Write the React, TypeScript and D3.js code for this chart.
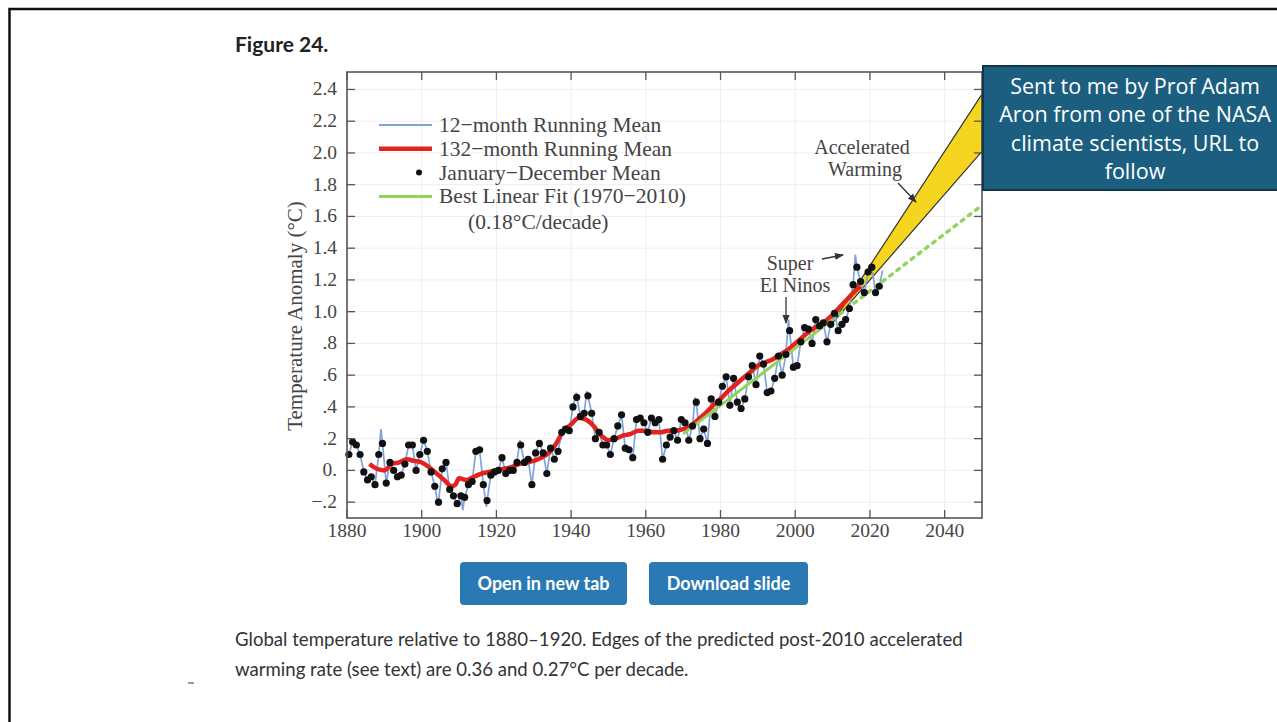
import React from 'react';
import * as d3 from 'd3';

// Jan-Dec mean anomaly (°C, relative to 1880-1920), one value per year from 1880
const firstYear = 1880;
const annualMean = [
  0.10, 0.18, 0.16, 0.10, -0.01, -0.06, -0.04, -0.09, 0.10, 0.17,
  -0.08, 0.05, 0.00, -0.04, -0.03, 0.04, 0.16, 0.16, 0.00, 0.10,
  0.19, 0.12, -0.01, -0.10, -0.20, 0.01, 0.05, -0.12, -0.16, -0.21,
  -0.16, -0.17, -0.09, -0.07, 0.12, 0.13, -0.09, -0.19, -0.03, -0.01,
  0.00, 0.08, -0.02, 0.00, 0.00, 0.05, 0.16, 0.05, 0.07, -0.09,
  0.11, 0.17, 0.11, -0.02, 0.14, 0.07, 0.12, 0.24, 0.26, 0.25,
  0.40, 0.46, 0.34, 0.36, 0.47, 0.36, 0.20, 0.24, 0.16, 0.16,
  0.10, 0.20, 0.28, 0.35, 0.14, 0.13, 0.08, 0.32, 0.33, 0.30,
  0.24, 0.33, 0.30, 0.32, 0.07, 0.16, 0.21, 0.25, 0.19, 0.32,
  0.30, 0.19, 0.28, 0.43, 0.20, 0.26, 0.17, 0.45, 0.34, 0.43,
  0.53, 0.59, 0.41, 0.58, 0.43, 0.39, 0.45, 0.59, 0.66, 0.54,
  0.72, 0.67, 0.49, 0.50, 0.58, 0.72, 0.60, 0.73, 0.88, 0.65,
  0.66, 0.81, 0.90, 0.89, 0.80, 0.95, 0.91, 0.93, 0.81, 0.92,
  0.99, 0.88, 0.92, 0.95, 1.02, 1.17, 1.28, 1.19, 1.12, 1.25,
  1.28, 1.12, 1.16,
];

// extra swings of the 12-month running mean beyond the annual dots [year, °C]
const runningMeanSwings: [number, number][] = [
  [1889.1, 0.26], [1904.4, -0.22], [1911.0, -0.25], [1917.3, -0.23],
  [1926.3, 0.19], [1941.4, 0.49], [1944.2, 0.50], [1973.2, 0.46],
  [1998.2, 0.95], [2016.1, 1.36], [2023.4, 1.26],
];

// 132-month running mean [year, °C]
const runningMean132: [number, number][] = [
  [1886, 0.04], [1888, 0.01], [1890, 0.0], [1892, 0.04], [1894, 0.05],
  [1896, 0.07], [1898, 0.06], [1900, 0.05], [1902, 0.02], [1904, -0.02],
  [1906, -0.06], [1908, -0.1], [1909, -0.09], [1910, -0.05], [1912, -0.06],
  [1914, -0.04], [1916, -0.02], [1918, -0.01], [1920, 0.0], [1922, 0.01],
  [1924, 0.02], [1926, 0.04], [1928, 0.05], [1930, 0.06], [1932, 0.08],
  [1934, 0.11], [1936, 0.17], [1938, 0.25], [1940, 0.29], [1942, 0.33],
  [1944, 0.32], [1946, 0.28], [1948, 0.22], [1950, 0.19], [1952, 0.2],
  [1954, 0.22], [1956, 0.23], [1958, 0.25], [1960, 0.25], [1962, 0.24],
  [1964, 0.24], [1966, 0.25], [1968, 0.25], [1970, 0.26], [1972, 0.28],
  [1974, 0.32], [1976, 0.36], [1978, 0.41], [1980, 0.45], [1982, 0.5],
  [1984, 0.54], [1986, 0.58], [1988, 0.62], [1990, 0.66], [1992, 0.68],
  [1994, 0.7], [1996, 0.73], [1998, 0.76], [2000, 0.8], [2002, 0.84],
  [2004, 0.88], [2006, 0.91], [2008, 0.94], [2010, 0.98], [2012, 1.03],
  [2014, 1.08], [2016, 1.13], [2017.5, 1.16],
];

// best linear fit 1970-2010 (0.18°C/decade), dotted continuation to 2050
const linearFit: [number, number][] = [[1970, 0.23], [2010, 0.95]];
const linearFitExtension: [number, number][] = [[2010, 0.95], [2050, 1.67]];

// accelerated warming wedge: 0.36 and 0.27 °C/decade after 2010
const wedgeUpper: [number, number][] = [[2010, 0.93], [2050, 2.37]];
const wedgeLower: [number, number][] = [[2010, 0.93], [2050, 2.01]];

const xTicks = [1880, 1900, 1920, 1940, 1960, 1980, 2000, 2020, 2040];
const yTicks = [-0.2, 0, 0.2, 0.4, 0.6, 0.8, 1.0, 1.2, 1.4, 1.6, 1.8, 2.0, 2.2, 2.4];
const yTickLabels = ['\u2212.2', '0.', '.2', '.4', '.6', '.8', '1.0', '1.2', '1.4', '1.6', '1.8', '2.0', '2.2', '2.4'];

const legendItems = [
  { label: '12\u2212month Running Mean', kind: 'blue' },
  { label: '132\u2212month Running Mean', kind: 'red' },
  { label: 'January\u2212December Mean', kind: 'dot' },
  { label: 'Best Linear Fit (1970\u22122010)', kind: 'green' },
];

const noteLines = [
  'Sent to me by Prof Adam',
  'Aron from one of the NASA',
  'climate scientists, URL to',
  'follow',
];

const captionLines = [
  'Global temperature relative to 1880\u20131920. Edges of the predicted post-2010 accelerated',
  'warming rate (see text) are 0.36 and 0.27\u00b0C per decade.',
];

const BLUE = '#7ea4db';
const RED = '#e2231f';
const GREEN = '#93d35c';
const YELLOW = '#f5d51e';
const SERIF = '"Liberation Serif", "Times New Roman", serif';
const SANS = 'Lato, "Open Sans", sans-serif';

const App: React.FC = () => {
  const left = 347, right = 982, top = 72, bottom = 518;
  const x = d3.scaleLinear().domain([1880, 2050]).range([left, right]);
  const y = d3.scaleLinear().domain([-0.3, 2.51]).range([bottom, top]);

  const dots = annualMean.map((v, i) => [firstYear + i + 0.5, v] as [number, number]);
  const bluePts = [...dots, ...runningMeanSwings].sort((a, b) => a[0] - b[0]);

  const line = d3.line<[number, number]>().x(d => x(d[0])).y(d => y(d[1]));
  const smooth = d3.line<[number, number]>().x(d => x(d[0])).y(d => y(d[1])).curve(d3.curveMonotoneX);
  const wedge = [...wedgeUpper, ...wedgeLower.slice().reverse()];

  return (
    <svg width={1277} height={722} style={{ position: 'absolute', left: 0, top: 0, background: '#fff' }}>
      <defs>
        <clipPath id="plot">
          <rect x={left} y={top} width={right - left} height={bottom - top} />
        </clipPath>
        <marker id="arr" viewBox="0 0 10 10" refX="9" refY="5" markerWidth="7" markerHeight="7" orient="auto">
          <path d="M0,1 L10,5 L0,9 Z" fill="#333" />
        </marker>
      </defs>

      {/* page frame */}
      <rect x={9.5} y={9} width={1300} height={760} fill="none" stroke="#111" strokeWidth={2.5} />

      <text x={235} y={52} fontFamily={SANS} fontWeight={700} fontSize={21} fill="#222">Figure 24.</text>

      {/* grid */}
      <g stroke="#eeeeee" strokeWidth={1}>
        {xTicks.map(t => <line key={'gx' + t} x1={x(t)} x2={x(t)} y1={top} y2={bottom} />)}
        {yTicks.map(t => <line key={'gy' + t} x1={left} x2={right} y1={y(t)} y2={y(t)} />)}
      </g>

      {/* accelerated warming wedge */}
      <g clipPath="url(#plot)">
        <path d={line(wedge) + 'Z'} fill={YELLOW} stroke="#333" strokeWidth={1.2} />
        <path d={line(linearFitExtension) || ''} fill="none" stroke={GREEN} strokeWidth={3.5}
          strokeDasharray="3,6" strokeLinecap="round" />
      </g>

      {/* data */}
      <path d={line(bluePts) || ''} fill="none" stroke={BLUE} strokeWidth={1.7} />
      <path d={smooth(runningMean132) || ''} fill="none" stroke={RED} strokeWidth={4.5} strokeLinejoin="round" />
      <path d={line(linearFit) || ''} fill="none" stroke={GREEN} strokeWidth={3} />
      {dots.map((d, i) => <circle key={i} cx={x(d[0])} cy={y(d[1])} r={3.6} fill="#111" />)}

      {/* axes frame and ticks */}
      <rect x={left} y={top} width={right - left} height={bottom - top} fill="none" stroke="#555" strokeWidth={1.6} />
      <g stroke="#555" strokeWidth={1.3}>
        {xTicks.map(t => (
          <g key={'tx' + t}>
            <line x1={x(t)} x2={x(t)} y1={bottom} y2={bottom - 8} />
            <line x1={x(t)} x2={x(t)} y1={top} y2={top + 8} />
          </g>
        ))}
        {yTicks.map(t => (
          <g key={'ty' + t}>
            <line x1={left} x2={left + 8} y1={y(t)} y2={y(t)} />
            <line x1={right} x2={right - 8} y1={y(t)} y2={y(t)} />
          </g>
        ))}
      </g>
      <g fontFamily={SERIF} fontSize={19.5} fill="#444">
        {xTicks.map(t => (
          <text key={'lx' + t} x={x(t)} y={537} textAnchor="middle">{t}</text>
        ))}
        {yTicks.map((t, i) => (
          <text key={'ly' + t} x={337} y={y(t) + 6} textAnchor="end">{yTickLabels[i]}</text>
        ))}
      </g>
      <text transform="translate(302,316) rotate(-90)" textAnchor="middle" fontFamily={SERIF} fontSize={21} fill="#444">
        Temperature Anomaly (°C)
      </text>

      {/* legend */}
      <g fontFamily={SERIF} fontSize={21.5} fill="#444">
        {legendItems.map((d, i) => {
          const ly = 125 + i * 23.8;
          return (
            <g key={d.label}>
              {d.kind === 'blue' && <line x1={379} x2={432} y1={ly} y2={ly} stroke={BLUE} strokeWidth={2} />}
              {d.kind === 'red' && <line x1={379} x2={432} y1={ly} y2={ly} stroke={RED} strokeWidth={4.5} />}
              {d.kind === 'dot' && <circle cx={419} cy={ly} r={3} fill="#111" />}
              {d.kind === 'green' && <line x1={379} x2={432} y1={ly} y2={ly} stroke={GREEN} strokeWidth={3} />}
              <text x={439} y={ly + 7}>{d.label}</text>
            </g>
          );
        })}
        <text x={468} y={229}>(0.18°C/decade)</text>
      </g>

      {/* annotations */}
      <g fontFamily={SERIF} fontSize={20} fill="#444" textAnchor="middle">
        <text x={862} y={154}>Accelerated</text>
        <text x={865} y={176}>Warming</text>
        <text x={790} y={270}>Super</text>
        <text x={795} y={292}>El Ninos</text>
      </g>
      <g stroke="#333" strokeWidth={1.3} markerEnd="url(#arr)">
        <line x1={898} y1={183} x2={916} y2={202} />
        <line x1={822} y1={259} x2={843} y2={255} />
        <line x1={786} y1={297} x2={786} y2={323} />
      </g>

      {/* note box */}
      <rect x={983} y={66} width={310} height={124} fill="#1b5e80" stroke="#10384d" strokeWidth={2} />
      <g fontFamily='"Open Sans", "Noto Sans", sans-serif' fontSize={21.5} fill="#fff" textAnchor="middle">
        {noteLines.map((t, i) => <text key={t} x={1135} y={94 + i * 28.4}>{t}</text>)}
      </g>

      {/* buttons */}
      <rect x={460} y={562} width={167} height={43} rx={4} fill="#2a79b4" />
      <rect x={649} y={562} width={159} height={43} rx={4} fill="#2a79b4" />
      <g fontFamily={SANS} fontSize={18} fontWeight={700} fill="#fff" textAnchor="middle">
        <text x={543.5} y={590}>Open in new tab</text>
        <text x={728.5} y={590}>Download slide</text>
      </g>

      {/* caption */}
      <g fontFamily={SANS} fontSize={18.6} fill="#333">
        {captionLines.map((t, i) => <text key={i} x={235} y={646 + i * 30}>{t}</text>)}
      </g>
      <line x1={188} x2={194} y1={683} y2={683} stroke="#555" strokeWidth={1.2} />
    </svg>
  );
};

export default App;
